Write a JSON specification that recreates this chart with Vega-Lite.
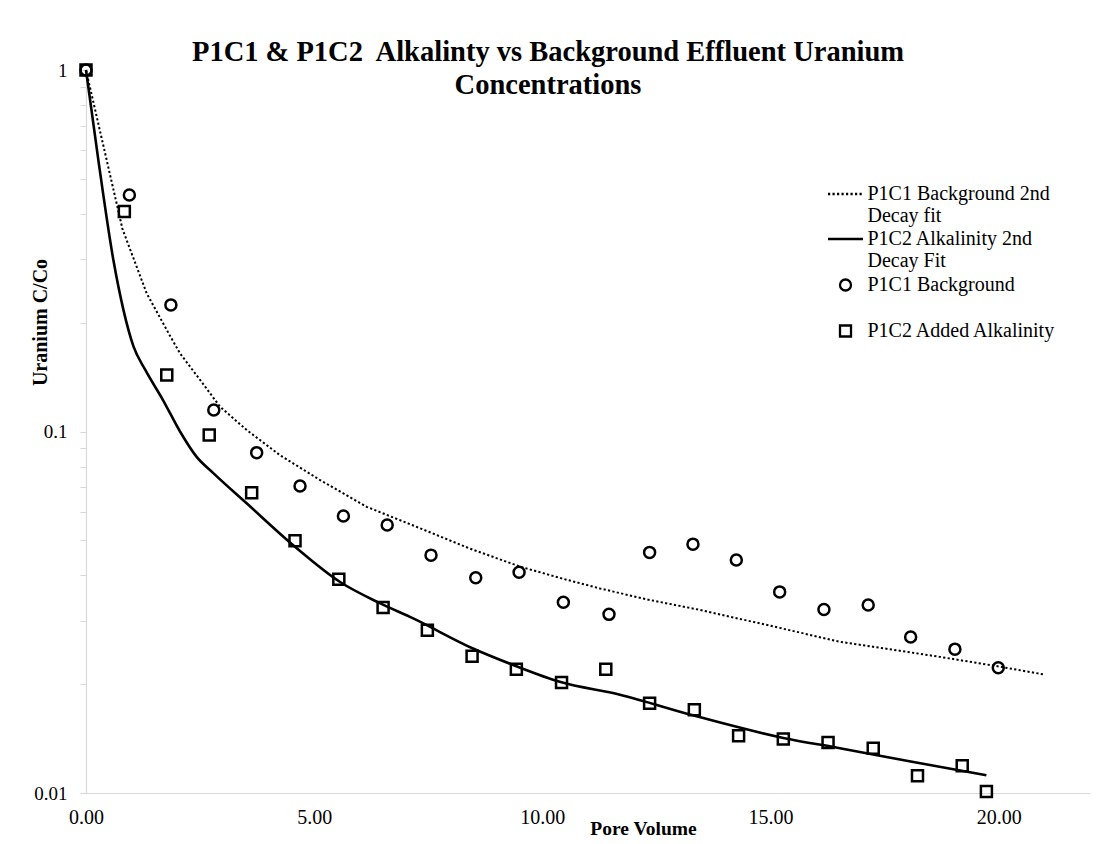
{
  "$schema": "https://vega.github.io/schema/vega-lite/v6.json",
  "width": 1004,
  "height": 723,
  "autosize": "none",
  "padding": {"left": 86, "top": 70, "right": 28, "bottom": 51},
  "background": "white",
  "config": {
    "view": {"stroke": null},
    "font": "Liberation Serif"
  },
  "title": {
    "text": ["P1C1 & P1C2\u00a0 Alkalinty vs Background Effluent Uranium", "Concentrations"],
    "font": "Liberation Serif",
    "fontSize": 28.5,
    "fontWeight": "bold",
    "color": "black",
    "anchor": "middle",
    "frame": "group",
    "orient": "top",
    "baseline": "top",
    "lineHeight": 33,
    "offset": 0,
    "dx": -40,
    "dy": 40
  },
  "datasets": {
    "obs": [
      {"pv": 0, "c": 1, "series": "P1C1 Background"},
      {"pv": 0.95, "c": 0.451, "series": "P1C1 Background"},
      {"pv": 1.86, "c": 0.224, "series": "P1C1 Background"},
      {"pv": 2.8, "c": 0.1147, "series": "P1C1 Background"},
      {"pv": 3.74, "c": 0.0874, "series": "P1C1 Background"},
      {"pv": 4.69, "c": 0.0707, "series": "P1C1 Background"},
      {"pv": 5.64, "c": 0.0584, "series": "P1C1 Background"},
      {"pv": 6.6, "c": 0.0551, "series": "P1C1 Background"},
      {"pv": 7.56, "c": 0.0455, "series": "P1C1 Background"},
      {"pv": 8.54, "c": 0.0394, "series": "P1C1 Background"},
      {"pv": 9.49, "c": 0.0408, "series": "P1C1 Background"},
      {"pv": 10.46, "c": 0.0337, "series": "P1C1 Background"},
      {"pv": 11.46, "c": 0.0312, "series": "P1C1 Background"},
      {"pv": 12.35, "c": 0.0463, "series": "P1C1 Background"},
      {"pv": 13.3, "c": 0.0488, "series": "P1C1 Background"},
      {"pv": 14.25, "c": 0.0441, "series": "P1C1 Background"},
      {"pv": 15.2, "c": 0.036, "series": "P1C1 Background"},
      {"pv": 16.17, "c": 0.0322, "series": "P1C1 Background"},
      {"pv": 17.14, "c": 0.0331, "series": "P1C1 Background"},
      {"pv": 18.07, "c": 0.027, "series": "P1C1 Background"},
      {"pv": 19.04, "c": 0.025, "series": "P1C1 Background"},
      {"pv": 19.99, "c": 0.0222, "series": "P1C1 Background"},
      {"pv": 0, "c": 1, "series": "P1C2 Added Alkalinity"},
      {"pv": 0.84, "c": 0.406, "series": "P1C2 Added Alkalinity"},
      {"pv": 1.77, "c": 0.1433, "series": "P1C2 Added Alkalinity"},
      {"pv": 2.7, "c": 0.0978, "series": "P1C2 Added Alkalinity"},
      {"pv": 3.63, "c": 0.0677, "series": "P1C2 Added Alkalinity"},
      {"pv": 4.58, "c": 0.0499, "series": "P1C2 Added Alkalinity"},
      {"pv": 5.54, "c": 0.039, "series": "P1C2 Added Alkalinity"},
      {"pv": 6.51, "c": 0.0326, "series": "P1C2 Added Alkalinity"},
      {"pv": 7.48, "c": 0.0282, "series": "P1C2 Added Alkalinity"},
      {"pv": 8.46, "c": 0.0239, "series": "P1C2 Added Alkalinity"},
      {"pv": 9.43, "c": 0.022, "series": "P1C2 Added Alkalinity"},
      {"pv": 10.42, "c": 0.0202, "series": "P1C2 Added Alkalinity"},
      {"pv": 11.39, "c": 0.022, "series": "P1C2 Added Alkalinity"},
      {"pv": 12.35, "c": 0.0177, "series": "P1C2 Added Alkalinity"},
      {"pv": 13.33, "c": 0.017, "series": "P1C2 Added Alkalinity"},
      {"pv": 14.3, "c": 0.0144, "series": "P1C2 Added Alkalinity"},
      {"pv": 15.28, "c": 0.0141, "series": "P1C2 Added Alkalinity"},
      {"pv": 16.26, "c": 0.0138, "series": "P1C2 Added Alkalinity"},
      {"pv": 17.25, "c": 0.0133, "series": "P1C2 Added Alkalinity"},
      {"pv": 18.22, "c": 0.01117, "series": "P1C2 Added Alkalinity"},
      {"pv": 19.2, "c": 0.0119, "series": "P1C2 Added Alkalinity"},
      {"pv": 19.73, "c": 0.0101, "series": "P1C2 Added Alkalinity"}
    ],
    "fit1": [
      {"pv": 0, "c": 1},
      {"pv": 0.8, "c": 0.363},
      {"pv": 1.33, "c": 0.241},
      {"pv": 1.84, "c": 0.184},
      {"pv": 2.06, "c": 0.1645},
      {"pv": 2.5, "c": 0.1389},
      {"pv": 2.94, "c": 0.117},
      {"pv": 3.52, "c": 0.101},
      {"pv": 4.25, "c": 0.086},
      {"pv": 5.13, "c": 0.0734},
      {"pv": 6.15, "c": 0.0619},
      {"pv": 7.32, "c": 0.054},
      {"pv": 8.4, "c": 0.0475},
      {"pv": 9.51, "c": 0.0423},
      {"pv": 10.4, "c": 0.0393},
      {"pv": 11.26, "c": 0.0368},
      {"pv": 12.3, "c": 0.0343},
      {"pv": 13.45, "c": 0.0321},
      {"pv": 14.9, "c": 0.0292},
      {"pv": 16.52, "c": 0.0262},
      {"pv": 17.6, "c": 0.025},
      {"pv": 18.71, "c": 0.0238},
      {"pv": 19.9, "c": 0.0225},
      {"pv": 20.97, "c": 0.0213}
    ],
    "fit2": [
      {"pv": 0, "c": 1},
      {"pv": 0.27, "c": 0.564},
      {"pv": 0.6, "c": 0.298},
      {"pv": 0.82, "c": 0.217},
      {"pv": 1.04, "c": 0.172},
      {"pv": 1.3, "c": 0.148},
      {"pv": 1.69, "c": 0.122},
      {"pv": 2.06, "c": 0.1},
      {"pv": 2.42, "c": 0.0852},
      {"pv": 2.79, "c": 0.0767},
      {"pv": 3.52, "c": 0.0633},
      {"pv": 4.58, "c": 0.048},
      {"pv": 5.56, "c": 0.0384},
      {"pv": 6.44, "c": 0.0335},
      {"pv": 7.17, "c": 0.0304},
      {"pv": 8.48, "c": 0.0251},
      {"pv": 9.4, "c": 0.0225},
      {"pv": 10.38, "c": 0.0203},
      {"pv": 11.7, "c": 0.0187},
      {"pv": 13.3, "c": 0.0164},
      {"pv": 15.28, "c": 0.0142},
      {"pv": 16.52, "c": 0.0133},
      {"pv": 18.1, "c": 0.0122},
      {"pv": 19.73, "c": 0.0112}
    ]
  },
  "encoding": {
    "x": {
      "field": "pv",
      "type": "quantitative",
      "scale": {"domain": [0, 22], "nice": false, "zero": false},
      "axis": {
        "title": "Pore Volume",
        "values": [0, 5, 10, 15, 20],
        "format": ".2f",
        "grid": false,
        "ticks": false,
        "labelFlush": false,
        "domainColor": "#d9d9d9",
        "domainWidth": 1.2,
        "labelFont": "Liberation Serif",
        "labelFontSize": 20,
        "labelColor": "black",
        "labelPadding": 14,
        "labelBaseline": "top",
        "titleFont": "Liberation Serif",
        "titleFontSize": 19.5,
        "titleFontWeight": "bold",
        "titleColor": "black",
        "titleX": 557,
        "titleY": 35,
        "titleBaseline": "middle",
        "titleAlign": "center"
      }
    },
    "y": {
      "field": "c",
      "type": "quantitative",
      "scale": {"type": "log", "domain": [0.01, 1], "nice": false},
      "axis": {
        "title": "Uranium C/Co",
        "values": [0.01, 0.02, 0.03, 0.04, 0.05, 0.06, 0.07, 0.08, 0.09, 0.1, 0.2, 0.3, 0.4, 0.5, 0.6, 0.7, 0.8, 0.9, 1],
        "labelExpr": "datum.value == 1 ? '1' : datum.value == 0.1 ? '0.1' : datum.value == 0.01 ? '0.01' : ''",
        "grid": false,
        "ticks": true,
        "tickSize": 6,
        "tickColor": "#d9d9d9",
        "labelFlush": false,
        "domainColor": "#d9d9d9",
        "domainWidth": 1.2,
        "labelFont": "Liberation Serif",
        "labelFontSize": 19,
        "labelColor": "black",
        "labelPadding": 13,
        "labelOverlap": false,
        "titleFont": "Liberation Serif",
        "titleFontSize": 20,
        "titleFontWeight": "bold",
        "titleColor": "black",
        "titleX": -46,
        "titleY": 252,
        "titleAngle": -90,
        "titleBaseline": "middle",
        "titleAlign": "center"
      }
    }
  },
  "layer": [
    {
      "data": {"name": "fit1"},
      "mark": {"type": "line", "color": "black", "strokeWidth": 2, "strokeDash": [2.2, 2.3]},
      "encoding": {}
    },
    {
      "data": {"name": "fit2"},
      "mark": {"type": "line", "color": "black", "strokeWidth": 2.6, "interpolate": "monotone"},
      "encoding": {}
    },
    {
      "data": {"name": "obs"},
      "mark": {"type": "point", "filled": false, "color": "black", "strokeWidth": 2.5, "size": 100, "opacity": 1},
      "encoding": {
        "shape": {
          "field": "series",
          "type": "nominal",
          "scale": {
            "domain": ["P1C1 Background 2nd Decay fit", "P1C2 Alkalinity 2nd Decay Fit", "P1C1 Background", "P1C2 Added Alkalinity"],
            "range": [
              "M-3.5,0h0.44M-2.6,0h0.44M-1.7,0h0.44M-0.8,0h0.44M0.1,0h0.44M1,0h0.44M1.9,0h0.44M2.8,0h0.44",
              "M-3.5,0H3.5",
              "M1.1,0A1.1,1.1,0,1,1,-1.1,0A1.1,1.1,0,1,1,1.1,0Z",
              "M-1.1,-1.1H1.1V1.1H-1.1Z"
            ]
          },
          "legend": {
            "title": null,
            "orient": "none",
            "legendX": 749.5,
            "legendY": 114,
            "padding": 0,
            "symbolSize": 100,
            "symbolStrokeColor": "black",
            "symbolFillColor": "transparent",
            "symbolStrokeWidth": 2.3,
            "labelFont": "Liberation Serif",
            "labelFontSize": 20,
            "labelColor": "black",
            "labelLimit": 400,
            "labelOffset": 12,
            "labelBaseline": "middle",
            "rowPadding": 3,
            "labelExpr": "datum.label == 'P1C1 Background 2nd Decay fit' ? ['P1C1 Background 2nd', 'Decay fit'] : datum.label == 'P1C2 Alkalinity 2nd Decay Fit' ? ['P1C2 Alkalinity 2nd', 'Decay Fit'] : [datum.label, '']"
          }
        }
      }
    }
  ]
}
